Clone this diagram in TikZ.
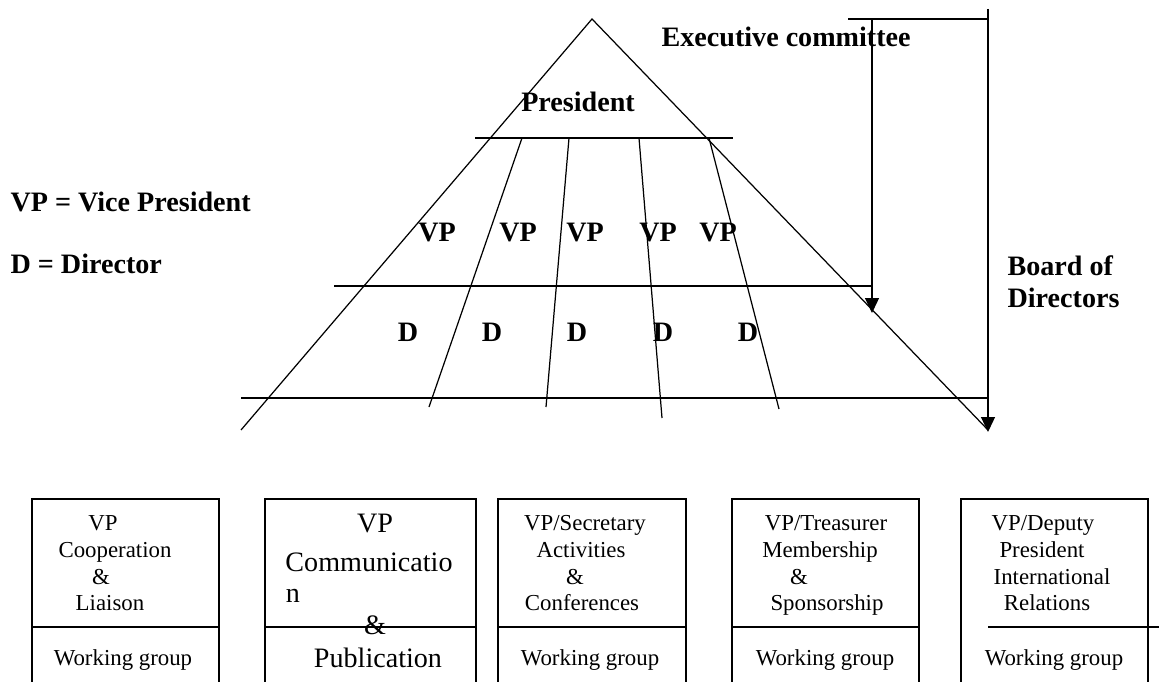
\documentclass[tikz,border=0pt]{standalone}
\usepackage{fontspec}
\setmainfont{Liberation Serif}
\usetikzlibrary{arrows.meta}

\tikzset{
  lbl/.style={font=\fontsize{16}{18}\selectfont\bfseries, inner sep=0pt},
  boxtxt/.style={font=\fontsize{13}{15}\selectfont, inner sep=0pt, anchor=base},
  bigtxt/.style={font=\fontsize{16}{18}\selectfont, inner sep=0pt, anchor=base},
  down/.style={-{Triangle[width=0.28cm,length=0.3cm]}},
  frame/.style={line width=0.9pt},
}

\begin{document}
\begin{tikzpicture}[x=0.02cm,y=-0.02cm,line width=0.7pt]
        \useasboundingbox (0,0) rectangle (1159,682);
        % pyramid
        \coordinate (apex) at (592,19);
        \coordinate (lfoot) at (241,430);
        \coordinate (rfoot) at (988,430);
        \draw (lfoot) -- (apex) -- (rfoot);
        \coordinate (t1a) at (475,138);
        \coordinate (t1b) at (733,138);
        \coordinate (t2a) at (334,286);
        \coordinate (t2b) at (872,286);
        \coordinate (t3a) at (241,398);
        \coordinate (t3b) at (988,398);
        \draw (t1a) -- (t1b);
        \draw (t2a) -- (t2b);
        \draw (t3a) -- (t3b);
        \foreach \t/\b/\e in {522/429/407, 569/546/407, 639/662/418, 709/779/409}
            \draw (\t,138) -- (\b,\e);
        % committee brackets
        \coordinate (capL) at (848,19);
        \coordinate (capR) at (988,19);
        \coordinate (extop) at (872,19);
        \coordinate (exend) at (872,313);
        \coordinate (bdtop) at (988,9);
        \coordinate (bdend) at (988,432);
        \draw (capL) -- (capR);
        \draw[down] (extop) -- (exend);
        \draw[down] (bdtop) -- (bdend);
        % labels
        \node[lbl] (pres) at (578,102) {President};
        \node[lbl, anchor=west] (exec) at (661,37) {Executive committee};
        \node[lbl, anchor=west, align=left] (board) at (1007,282) {Board of\\Directors};
        \node[lbl, anchor=west] (keyvp) at (10,202) {VP = Vice President};
        \node[lbl, anchor=west] (keyd) at (10,264) {D = Director};
        \foreach \x [count=\i] in {437,518,585,658,718}
            \node[lbl] (vp\i) at (\x,233) {VP};
        \foreach \x [count=\i] in {408,492,577,663,748}
            \node[lbl] (d\i) at (\x,332) {D};
        % boxes
        \foreach \l/\r in {32/219, 265/476, 498/686, 732/919, 961/1148}
            \draw[frame] (\l,690) |- (\r,499) -- (\r,690);
        \foreach \l/\r in {32/219, 265/476, 498/686, 732/919}
            \draw (\l,627) -- (\r,627);
        \draw (988,627) -- (1159,627);
        \foreach \t/\x/\y [count=\i] in {VP/103/523, Cooperation/115/550, \&/101/577, Liaison/110/603, Working group/123/658}
            \node[boxtxt] (ba\i) at (\x,\y+7) {\t};
        \foreach \t/\x/\y [count=\i] in {VP/375/523, Communicatio/369/562, n/293/593, \&/375/625, Publication/378/658}
            \node[bigtxt] (bb\i) at (\x,\y+9) {\t};
        \foreach \t/\x/\y [count=\i] in {{VP/Secretary}/585/523, Activities/581/550, \&/575/577, Conferences/582/603, Working group/590/658}
            \node[boxtxt] (bc\i) at (\x,\y+7) {\t};
        \foreach \t/\x/\y [count=\i] in {{VP/Treasurer}/826/523, Membership/820/550, \&/799/577, Sponsorship/827/603, Working group/825/658}
            \node[boxtxt] (bd\i) at (\x,\y+7) {\t};
        \foreach \t/\x/\y [count=\i] in {{VP/Deputy}/1043/523, President/1042/550, International/1052/577, Relations/1047/603, Working group/1054/658}
            \node[boxtxt] (be\i) at (\x,\y+7) {\t};
    \end{tikzpicture}
\end{document}
